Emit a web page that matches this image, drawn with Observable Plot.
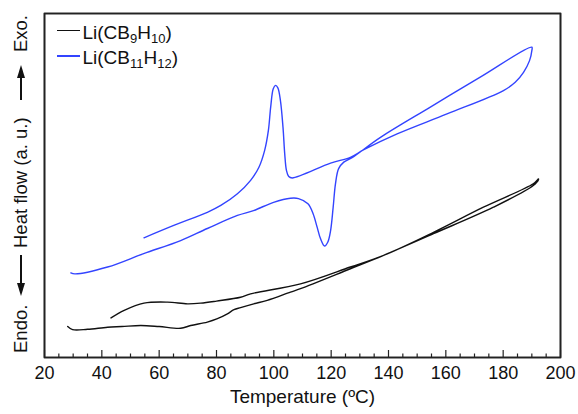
<!DOCTYPE html>
<html><head><meta charset="utf-8">
<script src="https://cdn.jsdelivr.net/npm/d3@7"></script>
<script src="https://cdn.jsdelivr.net/npm/@observablehq/plot@0.6"></script>
<style>
body{margin:0;background:#fff;font-family:"Liberation Sans",Arial,sans-serif;color:#111}
#chart{position:relative;width:578px;height:414px}
#chart svg{font-family:"Liberation Sans",Arial,sans-serif}
.leg{position:absolute;left:57px;height:20px;line-height:20px;font-size:19px;white-space:nowrap}
.leg .sw{display:inline-block;width:23px;height:1.4px;vertical-align:7.5px;margin-right:2.5px}
.leg sub{font-size:13px;vertical-align:-4px;line-height:0}
#ylab{position:absolute;left:-148.5px;top:174px;width:338px;height:20px;line-height:20px;font-size:18.5px;transform:rotate(-90deg);transform-origin:50% 50%;white-space:nowrap}
#ylab span{position:absolute;top:0}
.arr{position:absolute;top:9.35px;height:1.3px;background:#111}
.tri{position:absolute;top:5.5px;width:0;height:0;border-top:4.5px solid transparent;border-bottom:4.5px solid transparent}
</style>
</head><body><div id="chart"></div>
<script>
// Series names
const seriesNames = ["Li(CB9H10)", "Li(CB11H12)"];
const seriesColors = ["#111111", "#3344ff"];

// Li(CB9H10): heating then cooling, [temperature °C, heat flow a.u.]
const cb9Heating = [[28.1,9.0],[29.8,8.1],[35,8.2],[42.0,8.8],[47,9.0],[53.6,9.3],[60,9.0],[67.5,8.5],[71.0,9.3],[76.8,10.3],[80.1,11.2],[83.8,12.7],[86.1,13.9],[88.4,14.5],[93.0,15.6],[97.7,16.6],[105.8,19.0],[109.3,20.0],[126.7,25.8],[138.3,29.7],[155.7,36.0],[176.6,43.7],[190.5,50.0],[192.3,51.7]];
const cb9Cooling = [[192.3,51.9],[190.5,50.5],[173.1,43.7],[155.7,36.4],[138.3,29.7],[126.7,26.3],[109.3,21.4],[91.9,18.5],[88.4,17.5],[80,16.4],[74.5,15.8],[69.9,15.6],[62.9,16.1],[54.7,15.8],[47.8,13.7],[43.2,11.5]];

// Li(CB11H12): heating then cooling
const cb11Heating = [[29.2,24.6],[30.6,24.3],[42.0,26.3],[54.6,30.2],[67.5,34.0],[76.8,37.5],[87.3,41.3],[92.9,42.7],[99.9,45.1],[105.8,46.3],[108.6,46.2],[111.9,44.7],[113.7,41.8],[115.1,37.9],[116.3,34.5],[117.7,32.4],[118.8,33.5],[119.8,36.9],[120.7,43.7],[121.5,50.5],[122.6,54.9],[124.4,56.8],[127.3,58.1],[137.2,64.0],[154.6,72.8],[172.0,81.5],[190.0,90.2]];
const cb11Cooling = [[190.0,89.2],[189.2,86.3],[187.1,82.9],[184.2,80.0],[180.1,77.6],[160.4,70.8],[143.0,65.0],[131.4,60.4],[126.7,58.2],[119.8,56.5],[106.4,52.2],[105.2,52.6],[104.4,54.4],[103.8,59.2],[103.2,66.9],[102.3,74.7],[101.4,78.4],[100.6,79.1],[99.8,78.1],[98.9,72.8],[98.1,66.0],[96.8,60.2],[94.8,55.3],[91.9,51.5],[87.3,47.6],[81.5,44.2],[76.8,42.2],[65.1,38.4],[54.7,34.8]];

// Axis ticks and labels
const xDomain = [20, 200];
const yDomain = [0, 100];
const xTicks = [20,40,60,80,100,120,140,160,180,200];
const xMinorTicks = [25,30,35,45,50,55,65,70,75,85,90,95,105,110,115,125,130,135,145,150,155,165,170,175,185,190,195];
const xLabel = "Temperature (ºC)";
const yLabelParts = ["Endo.", "Heat flow (a. u.)", "Exo."];
const legendHtml = ["Li(CB<sub>9</sub>H<sub>10</sub>)", "Li(CB<sub>11</sub>H<sub>12</sub>)"];

const rows = [];
[[cb9Heating, cb9Cooling, seriesNames[0]], [cb11Heating, cb11Cooling, seriesNames[1]]].forEach(([h, c, name]) => {
  [...h, ...c].forEach(([t, v]) => rows.push({series: name, t, v}));
});

// Frame outline built from the scale domains
const box = [[xDomain[0], yDomain[0]], [xDomain[1], yDomain[0]], [xDomain[1], yDomain[1]], [xDomain[0], yDomain[1]], [xDomain[0], yDomain[0]]]
  .map(([t, v]) => ({series: "axes", t, v}));
const innerH = 414 - 13 - 57;
const unitPerPx = (yDomain[1] - yDomain[0]) / innerH;
const majorTicks = xTicks.map(t => ({series: "axes", t, v1: yDomain[0], v2: yDomain[0] + 7 * unitPerPx}));
const minorTicks = xMinorTicks.map(t => ({series: "axes", t, v1: yDomain[0], v2: yDomain[0] + 3.5 * unitPerPx}));

const plot = Plot.plot({
  width: 578, height: 414,
  marginLeft: 44, marginRight: 18, marginTop: 13, marginBottom: 57,
  style: {color: "#111", background: "#fff"},
  x: {domain: xDomain, axis: null},
  y: {domain: yDomain, axis: null},
  color: {domain: [...seriesNames, "axes"], range: [...seriesColors, "#222222"]},
  marks: [
    Plot.line(rows, {x: "t", y: "v", z: "series", stroke: "series", strokeWidth: 1.4, curve: "catmull-rom"}),
    Plot.frame({stroke: "#222", strokeWidth: 1.6}),
    Plot.line(box, {x: "t", y: "v", stroke: "series", strokeWidth: 1.6}),
    Plot.ruleX(majorTicks, {x: "t", y1: "v1", y2: "v2", stroke: "series", strokeWidth: 1.2}),
    Plot.ruleX(minorTicks, {x: "t", y1: "v1", y2: "v2", stroke: "series", strokeWidth: 1.2}),
    Plot.axisX({ticks: xTicks, tickSize: 0, tickPadding: 9, fontSize: 18, label: null, tickFormat: d => String(d)}),
    Plot.text([xLabel], {frameAnchor: "bottom", dy: 45, text: d => d, fontSize: 19, fill: "#111"})
  ]
});
const chart = document.getElementById("chart");
chart.appendChild(plot);

// Legend (HTML, for real subscripts)
legendHtml.forEach((html, i) => {
  const row = document.createElement("div");
  row.className = "leg";
  row.style.top = (22.7 + i * 25.6) + "px";
  row.innerHTML = `<span class="sw" style="background:${seriesColors[i]}"></span>${html}`;
  chart.appendChild(row);
});

// Y-axis label (HTML, rotated) with arrows
const yl = document.createElement("div");
yl.id = "ylab";
yl.innerHTML =
  `<span style="left:0">${yLabelParts[0]}</span>` +
  `<div class="tri" style="left:57px;border-right:13px solid #111"></div>` +
  `<div class="arr" style="left:68px;width:30px"></div>` +
  `<span style="left:105px">${yLabelParts[1]}</span>` +
  `<div class="arr" style="left:253px;width:24px"></div>` +
  `<div class="tri" style="left:275px;border-left:13px solid #111"></div>` +
  `<span style="right:0">${yLabelParts[2]}</span>`;
chart.appendChild(yl);
</script>
</body></html>
